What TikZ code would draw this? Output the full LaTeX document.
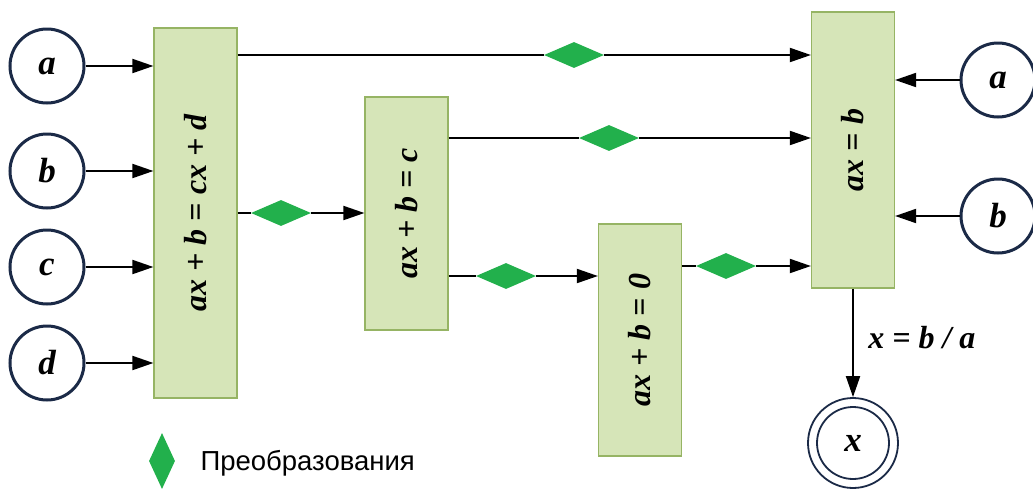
\documentclass[tikz,border=0pt]{standalone}
\usepackage{fontspec}
\setmainfont{Liberation Serif}
\newfontfamily\sansf{Liberation Sans}
\usetikzlibrary{arrows.meta,shapes.geometric}
\definecolor{boxfill}{RGB}{214,229,184}
\definecolor{boxborder}{RGB}{150,180,100}
\definecolor{diagreen}{RGB}{34,176,76}
\definecolor{navy}{RGB}{27,42,71}
\begin{document}
\begin{tikzpicture}[x=1pt,y=-1pt,
  box/.style={draw=boxborder, fill=boxfill, line width=1.2pt, minimum width=83pt, inner sep=0pt,
    font=\bfseries\itshape\fontsize{32}{32}\selectfont},
  var/.style={circle, draw=navy, line width=3pt, minimum size=74pt, inner sep=0pt,
    font=\bfseries\itshape\fontsize{35}{35}\selectfont},
  dia/.style={diamond, fill=diagreen, minimum width=60pt, minimum height=26pt, inner sep=0pt},
  conn/.style={line width=1.9pt, -{Triangle[length=21pt,width=14pt]}},
  ln/.style={line width=1.9pt}]
\useasboundingbox (0,0) rectangle (1033,491);
% boxes
\node[box, minimum height=370pt] (b1) at (195.5,213) {\rotatebox{90}{ax + b = cx + d}};
\node[box, minimum height=233pt] (b2) at (406.5,213.5) {\rotatebox{90}{ax + b = c}};
\node[box, minimum height=232pt] (b3) at (640,340) {\rotatebox{90}{ax + b = 0}};
\node[box, minimum height=276pt] (b4) at (853,150) {\rotatebox{90}{ax = b}};
% left inputs
\node[var] (la) at (47,66) {a};
\node[var] (lb) at (47,171) {b};
\node[var] (lc) at (47,267) {c};
\node[var] (ld) at (47,363) {d};
\draw[conn] (la) -- (la -| b1.west);
\draw[conn] (lb) -- (lb -| b1.west);
\draw[conn] (lc) -- (lc -| b1.west);
\draw[conn] (ld) -- (ld -| b1.west);
% right inputs
\node[var] (ra) at (998,80) {a};
\node[var] (rb) at (998,216) {b};
\draw[conn] (ra) -- (ra -| b4.east);
\draw[conn] (rb) -- (rb -| b4.east);
% transformations
\node[dia] (d1) at (574,55) {};
\node[dia] (d2) at (281,213) {};
\node[dia] (d3) at (609,138) {};
\node[dia] (d4) at (506,276) {};
\node[dia] (d5) at (726,266) {};
\draw[ln] (b1.east |- d1) -- (d1);
\draw[conn] (d1) -- (d1 -| b4.west);
\draw[ln] (b1.east |- d2) -- (d2);
\draw[conn] (d2) -- (d2 -| b2.west);
\draw[ln] (b2.east |- d3) -- (d3);
\draw[conn] (d3) -- (d3 -| b4.west);
\draw[ln] (b2.east |- d4) -- (d4);
\draw[conn] (d4) -- (d4 -| b3.west);
\draw[ln] (b3.east |- d5) -- (d5);
\draw[conn] (d5) -- (d5 -| b4.west);
% output
\node[circle, draw=navy, line width=1.8pt, minimum size=90pt, inner sep=0pt] (xo) at (853,443) {};
\node[circle, draw=navy, line width=1.8pt, minimum size=72pt, inner sep=0pt,
  font=\bfseries\itshape\fontsize{35}{35}\selectfont] (xi) at (xo) {x};
\draw[conn] (b4.south) -- node[right=11pt, yshift=5pt, font=\bfseries\itshape\fontsize{32}{32}\selectfont] {x = b / a} (xo.north);
% legend
\node[diamond, fill=diagreen, minimum width=26pt, minimum height=56pt, inner sep=0pt] (lg) at (162,461) {};
\node[anchor=west, font=\sansf\fontsize{27.5}{27.5}\selectfont] (lt) at (197,463) {Преобразования};
\end{tikzpicture}
\end{document}
